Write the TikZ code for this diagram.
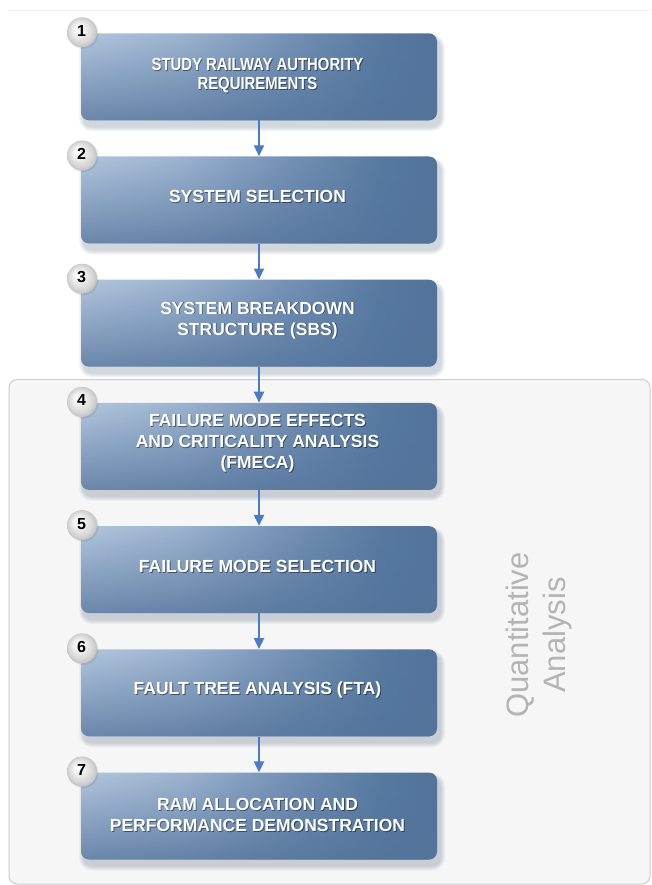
\documentclass[tikz,border=0pt]{standalone}
\usepackage{fontspec}
\setmainfont{Liberation Sans}
\newfontfamily\narrowfont[FakeStretch=0.85]{Liberation Sans}
\usetikzlibrary{arrows.meta,fadings}

\definecolor{boxlight}{HTML}{B2C6DE}
\definecolor{boxpale}{HTML}{9DB4D0}
\definecolor{boxmid}{HTML}{7894B8}
\definecolor{boxdeep}{HTML}{587AA1}
\definecolor{boxdark}{HTML}{53739B}
\definecolor{boxshadow}{HTML}{4A5C74}
\definecolor{flowblue}{HTML}{4A7BC8}
\definecolor{panelfill}{HTML}{F6F6F6}
\definecolor{panelline}{HTML}{CCCCCC}
\definecolor{labelgray}{HTML}{B4B4B4}

% left-to-right blue fill of the step boxes
\pgfdeclarehorizontalshading{boxshade}{100bp}{%
  color(0bp)=(boxlight); color(25bp)=(boxlight); color(39bp)=(boxpale);
  color(53bp)=(boxmid); color(67bp)=(boxdeep); color(75bp)=(boxdark); color(100bp)=(boxdark)}

% darkening towards the lower edge of each box
\tikzfading[name=lowerdark, top color=transparent!100, bottom color=transparent!24]

% soft grey disc behind each step number
\pgfdeclareradialshading{badgeshade}{\pgfpoint{-8bp}{8bp}}{%
  color(0bp)=(white); color(8bp)=(black!4); color(22bp)=(black!18); color(30bp)=(black!32)}

\tikzset{
  stepbox/.style={rectangle, rounded corners=8pt, minimum width=356pt,
    minimum height=87pt, inner sep=0pt, shading=boxshade, shading angle=0,
    path picture={\fill[boxdark, path fading=lowerdark]
      (path picture bounding box.south west) rectangle (path picture bounding box.north east);}},
  boxhalo/.style={fill=boxshadow, opacity=0.055},
  steptext/.style={font=\bfseries\fontsize{17.5}{21}\selectfont, text=white,
    align=center, inner sep=0pt},
  tightlines/.style={font=\narrowfont\bfseries\fontsize{17.5}{18.5}\selectfont},
  badge/.style={circle, minimum size=30pt, inner sep=0pt, shading=badgeshade},
  badgehalo/.style={circle, minimum size=31pt, inner sep=0pt, fill=black, opacity=0.08},
  badgenum/.style={font=\bfseries\fontsize{16}{16}\selectfont, text=black, inner sep=0pt},
  flow/.style={draw=flowblue, line width=2pt, -{Triangle[width=10pt,length=11pt]}},
  panel/.style={rectangle, rounded corners=8pt, fill=panelfill, draw=panelline,
    line width=1pt, inner sep=0pt},
  panellabel/.style={rotate=90, text=labelgray, align=center,
    font=\fontsize{31}{37}\selectfont, inner sep=0pt}
}

% #1 name, #2 top edge, #3 number, #4 caption, #5 caption centre below top, #6 extra text style
\newcommand\flowstep[6]{%
  \foreach \g in {1,...,5}{%
    \fill[boxhalo, rounded corners=8pt+\g pt]
      (81+3-\g,-#2-87-6-\g) rectangle (437+3+\g,-#2-6+\g);
  }
  \node[stepbox] (#1) at (259,-#2-43.5) {};
  \node[steptext,#6,text=black,opacity=.45] (#1-shade) at (258.4,-#2-#5-0.9) {#4};
  \node[steptext,#6] (#1-text) at (257.5,-#2-#5) {#4};
  \node[badgehalo] (#1-halo) at (83,-#2) {};
  \node[badge] (#1-badge) at (82,-#2+1) {};
  \node[badgenum] (#1-num) at (81.5,-#2+2.5) {#3};
}

\begin{document}
\begin{tikzpicture}[x=1pt,y=1pt]
  \useasboundingbox (0,0) rectangle (651,-885);

  % faint rule along the top
  \draw[black!5, line width=1pt] (8,-10.5) -- (651,-10.5);

  % shaded region grouping steps 4 to 7
  \node[panel, minimum width=641pt, minimum height=504.5pt] (quant) at (329.5,-631.75) {};
  \node[panellabel] (quant-label) at (539,-635) {Quantitative\\Analysis};

  \flowstep{s1}{33.3}{1}{STUDY RAILWAY AUTHORITY\\REQUIREMENTS}{42.5}{tightlines}
  \flowstep{s2}{156.5}{2}{SYSTEM SELECTION}{40.2}{}
  \flowstep{s3}{279.7}{3}{SYSTEM BREAKDOWN\\STRUCTURE (SBS)}{40.6}{}
  \flowstep{s4}{402.9}{4}{FAILURE MODE EFFECTS\\AND CRITICALITY ANALYSIS\\(FMECA)}{40.5}{}
  \flowstep{s5}{526.1}{5}{FAILURE MODE SELECTION}{40.2}{}
  \flowstep{s6}{649.3}{6}{FAULT TREE ANALYSIS (FTA)}{40.7}{}
  \flowstep{s7}{772.5}{7}{RAM ALLOCATION AND\\PERFORMANCE DEMONSTRATION}{42.5}{}

  \draw[flow] (s1.south) -- (s2.north);
  \draw[flow] (s2.south) -- (s3.north);
  \draw[flow] (s3.south) -- (s4.north);
  \draw[flow] (s4.south) -- (s5.north);
  \draw[flow] (s5.south) -- (s6.north);
  \draw[flow] (s6.south) -- (s7.north);
\end{tikzpicture}
\end{document}
